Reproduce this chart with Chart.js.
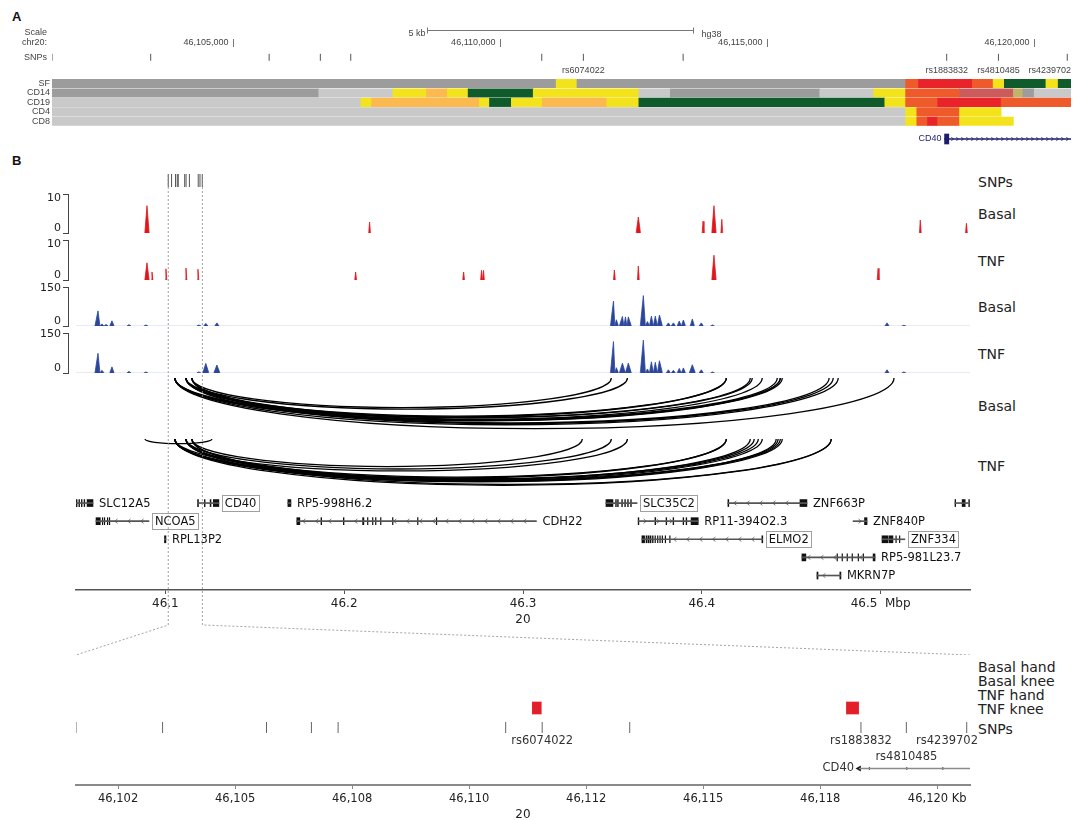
<!DOCTYPE html>
<html>
<head>
<meta charset="utf-8">
<script src="https://cdn.jsdelivr.net/npm/chart.js@4.4.1/dist/chart.umd.min.js"></script>
<style>
    html, body { margin: 0; padding: 0; background: #fff; }
    body { position: relative; width: 1076px; height: 820px; overflow: hidden; font-family: "DejaVu Sans", sans-serif; }
    canvas { position: absolute; left: 0; }
    .lbl { position: absolute; white-space: nowrap; color: #222; font-size: 14px; line-height: 14px; transform: translateY(-50%); }
    .panel { position: absolute; font: bold 13px "Liberation Sans", Arial, sans-serif; color: #111; }
</style>
</head>
<body>
<div class="panel" style="left:12px;top:9px">A</div>
<div class="panel" style="left:12px;top:153px">B</div>
<div class="lbl" style="left:978px;top:182px">SNPs</div>
<div class="lbl" style="left:978px;top:214px">Basal</div>
<div class="lbl" style="left:978px;top:261px">TNF</div>
<div class="lbl" style="left:978px;top:307px">Basal</div>
<div class="lbl" style="left:978px;top:354px">TNF</div>
<div class="lbl" style="left:978px;top:406px">Basal</div>
<div class="lbl" style="left:978px;top:466px">TNF</div>
<div class="lbl" style="left:978px;top:667px">Basal hand</div>
<div class="lbl" style="left:978px;top:681px">Basal knee</div>
<div class="lbl" style="left:978px;top:695px">TNF hand</div>
<div class="lbl" style="left:978px;top:709px">TNF knee</div>
<div class="lbl" style="left:978px;top:729px">SNPs</div>
<script>
"use strict";

// ---- zoomed window on chr20 (panel A, bottom of panel B), kb ----
var winStartKb = 46101.6;
var winEndKb = 46120.7;
var snpKb = [46101.6, 46103.45, 46105.67, 46106.63, 46107.2, 46110.78, 46111.56, 46113.43, 46118.37, 46119.34, 46120.63];
var snpNames = ["", "", "", "", "", "", "rs6074022", "", "rs1883832", "rs4810485", "rs4239702"];
var chrTicksKb = [46105, 46110, 46115, 46120];
var scaleBarKb = [46108.62, 46113.62];
var kbTicks = [46102.5, 46105, 46107.5, 46110, 46112.5, 46115, 46117.5, 46120];

// chromatin states per cell type: [start kb, end kb, state]
var stateTracks = ["SF", "CD14", "CD19", "CD4", "CD8"];
var statesSF = [[46101.6, 46111.05, "q"], [46111.05, 46111.44, "y"], [46111.44, 46117.6, "q"], [46117.6, 46117.84, "r"], [46117.84, 46118.85, "R"], [46118.85, 46119.24, "r"], [46119.24, 46119.45, "y"], [46119.45, 46120.23, "g"], [46120.23, 46120.46, "y"], [46120.46, 46120.7, "g"]];
var statesCD14 = [[46101.6, 46106.6, "q"], [46106.6, 46107.99, "l"], [46107.99, 46108.62, "y"], [46108.62, 46109.01, "o"], [46109.01, 46109.4, "y"], [46109.4, 46110.62, "g"], [46110.62, 46112.6, "y"], [46112.6, 46113.19, "l"], [46113.19, 46115.99, "q"], [46115.99, 46117.0, "l"], [46117.0, 46117.6, "y"], [46117.6, 46118.61, "r"], [46118.61, 46119.62, "p"], [46119.62, 46119.8, "k"], [46119.8, 46120.01, "q"], [46120.01, 46120.7, "l"]];
var statesCD19 = [[46101.6, 46107.39, "l"], [46107.39, 46107.59, "y"], [46107.59, 46109.61, "o"], [46109.61, 46109.8, "y"], [46109.8, 46110.21, "g"], [46110.21, 46110.79, "y"], [46110.79, 46112.0, "o"], [46112.0, 46112.6, "y"], [46112.6, 46117.21, "g"], [46117.21, 46117.6, "y"], [46117.6, 46118.2, "r"], [46118.2, 46119.39, "R"], [46119.39, 46120.7, "r"]];
var statesCD4 = [[46101.6, 46117.6, "l"], [46117.6, 46117.81, "y"], [46117.81, 46118.61, "r"], [46118.61, 46119.39, "y"]];
var statesCD8 = [[46101.6, 46117.6, "l"], [46117.6, 46117.81, "y"], [46117.81, 46118.01, "r"], [46118.01, 46118.2, "R"], [46118.2, 46118.61, "r"], [46118.61, 46119.62, "y"]];

var cd40Kb = [46118.33, 46129.86];
var cd40ExonKb = [46118.55, 46119.35, 46120.12];
var kneeTnfKb = [[46111.35, 46111.54], [46118.06, 46118.32]];

// ---- panel B, Mb ----
var regionMb = [46.05, 46.55];
var mbTicks = [46.1, 46.2, 46.3, 46.4, 46.5];

var basalRedPos = [46.0897, 46.2142, 46.3645, 46.4007, 46.4068, 46.4112, 46.5222, 46.5480];
var basalRedH = [7, 2.8, 4.1, 3, 7, 3.5, 3.3, 2.5];
var tnfRedPos = [46.0897, 46.0925, 46.1003, 46.1115, 46.1182, 46.2064, 46.2668, 46.2768, 46.2779, 46.3511, 46.3645, 46.4068, 46.4986];
var tnfRedH = [4.3, 2, 2.8, 3, 2.7, 2, 2, 2.4, 2.4, 2.5, 3.5, 6.2, 2.9];

var basalBluePos = [46.0623, 46.0645, 46.0668, 46.0701, 46.0796, 46.0891, 46.1187, 46.1226, 46.1288, 46.3506, 46.3522, 46.3556, 46.3573, 46.3589, 46.3673, 46.3696, 46.3718, 46.3740, 46.3763, 46.3813, 46.3841, 46.3874, 46.3897, 46.3947, 46.3997, 46.4060, 46.5036, 46.5130];
var basalBlueH = [58, 8, 6, 20, 5, 4, 4, 10, 12, 96, 24, 37, 35, 35, 117, 17, 38, 38, 42, 12, 12, 19, 23, 27, 12, 4, 12, 3];
var tnfBluePos = [46.0623, 46.0645, 46.0701, 46.0796, 46.0891, 46.1187, 46.1226, 46.1288, 46.3506, 46.3522, 46.3556, 46.3589, 46.3673, 46.3696, 46.3718, 46.3740, 46.3763, 46.3813, 46.3841, 46.3874, 46.3897, 46.3947, 46.3997, 46.4060, 46.5036, 46.5130];
var tnfBlueH = [74, 10, 23, 6, 4, 4, 36, 30, 118, 20, 37, 37, 123, 15, 42, 40, 46, 12, 10, 17, 19, 31, 12, 4, 12, 4];

// contacts [anchor1, anchor2] Mb
var basalLinks = [[46.1053, 46.5075], [46.1053, 46.4763], [46.1115, 46.4735], [46.1148, 46.4712], [46.1053, 46.4450], [46.1115, 46.4439], [46.1148, 46.4422], [46.1053, 46.4338], [46.1115, 46.4282], [46.1148, 46.4271], [46.1053, 46.4137], [46.1115, 46.4137], [46.1053, 46.4439], [46.1115, 46.3584], [46.1148, 46.3494]];
var tnfLinks = [[46.0886, 46.1260], [46.1053, 46.4724], [46.1115, 46.4724], [46.1053, 46.4450], [46.1115, 46.4439], [46.1148, 46.4427], [46.1053, 46.4416], [46.1053, 46.4338], [46.1115, 46.4316], [46.1148, 46.4293], [46.1053, 46.4271], [46.1053, 46.4137], [46.1115, 46.4137], [46.1053, 46.3584], [46.1115, 46.3494], [46.1148, 46.3332]];

// genes
var geneNames = ["SLC12A5", "CD40", "RP5-998H6.2", "SLC35C2", "ZNF663P", "", "NCOA5", "CDH22", "RP11-394O2.3", "ZNF840P", "RPL13P2", "ELMO2", "ZNF334", "RP5-981L23.7", "MKRN7P"];
var geneStart = [46.0502, 46.1180, 46.1685, 46.3464, 46.4146, 46.5416, 46.0612, 46.1735, 46.3644, 46.4846, 46.0995, 46.3665, 46.5008, 46.4560, 46.4644];
var geneEnd = [46.0595, 46.1299, 46.1702, 46.3638, 46.4588, 46.5497, 46.0908, 46.3075, 46.3980, 46.4924, 46.1003, 46.4341, 46.5136, 46.4969, 46.4778];
var geneRow = [0, 0, 0, 0, 0, 0, 1, 1, 1, 1, 2, 2, 2, 3, 4];
var geneStrand = ["+", "+", "+", "-", "-", "-", "-", "-", "+", "+", "+", "-", "-", "-", "-"];
var geneBoxed = [false, true, false, true, false, false, true, false, false, false, false, true, true, false, false];
var geneExons = [
    [[46.0502, 46.0506], [46.0516, 46.0520], [46.0530, 46.0534], [46.0545, 46.0549], [46.0562, 46.0595]],
    [[46.1180, 46.1185], [46.1218, 46.1222], [46.1250, 46.1255], [46.1268, 46.1299]],
    [[46.1685, 46.1702]],
    [[46.3464, 46.3503], [46.3518, 46.3522], [46.3529, 46.3533], [46.3552, 46.3556], [46.3569, 46.3573], [46.3585, 46.3589], [46.3602, 46.3606]],
    [[46.4146, 46.4151], [46.4549, 46.4588]],
    [[46.5416, 46.5420], [46.5456, 46.5473], [46.5493, 46.5497]],
    [[46.0612, 46.0636], [46.0647, 46.0650], [46.0658, 46.0661], [46.0675, 46.0678], [46.0686, 46.0689]],
    [[46.1735, 46.1752], [46.1870, 46.1874], [46.1995, 46.1999], [46.2103, 46.2110], [46.2130, 46.2133], [46.2158, 46.2161], [46.2175, 46.2178], [46.2203, 46.2206], [46.2270, 46.2273], [46.2410, 46.2413], [46.2515, 46.2518]],
    [[46.3644, 46.3648], [46.3738, 46.3742], [46.3800, 46.3804], [46.3839, 46.3843], [46.3895, 46.3899], [46.3912, 46.3916], [46.3940, 46.3980]],
    [[46.4910, 46.4924]],
    [[46.0995, 46.1003]],
    [[46.3665, 46.3680], [46.3688, 46.3694], [46.3700, 46.3706], [46.3712, 46.3716], [46.3724, 46.3728], [46.3738, 46.3741], [46.3752, 46.3755], [46.3765, 46.3768], [46.3778, 46.3781], [46.3795, 46.3798], [46.3820, 46.3823], [46.4336, 46.4341]],
    [[46.5008, 46.5040], [46.5046, 46.5069], [46.5085, 46.5088], [46.5105, 46.5108]],
    [[46.4560, 46.4582], [46.4756, 46.4759], [46.4784, 46.4787], [46.4812, 46.4815], [46.4840, 46.4843], [46.4874, 46.4877], [46.4902, 46.4905], [46.4958, 46.4969]],
    [[46.4644, 46.4650], [46.4772, 46.4778]]
];

// ---- styles / layout ----
var stateColors = { q: "#9c9c9c", l: "#c9c9c9", y: "#f3e31d", o: "#fbb94f", g: "#0f5b2b", r: "#ee5a2a", R: "#e8242a", p: "#cc5c5c", k: "#c1b36c" };
var navy = "#1d1d6e";
var redFill = "#e0161c";
var blueFill = "#2b469b";
var areaB = { left: 76, right: 970 };
var pxPerMb = (areaB.right - areaB.left) / (regionMb[1] - regionMb[0]);
var rowsA = { bar: 10, chr: 23, snp: 37.3, snpLabel: 51, gene: 119, state0: 63.5, statePitch: 9.45 };
var rowsBot = { knee: 53, snp: 72.5, label: [86, 102], gene: 113.5 };

Chart.defaults.font.family = "'DejaVu Sans', sans-serif";
Chart.defaults.animation = false;
Chart.defaults.responsive = false;
Chart.defaults.events = [];
Chart.defaults.plugins.legend.display = false;
Chart.defaults.plugins.tooltip.enabled = false;

function addCanvas(top, height) {
    var cv = document.createElement("canvas");
    cv.width = 1076;
    cv.height = height;
    cv.style.top = top + "px";
    document.body.appendChild(cv);
    return cv;
}

function kbLabel(v) {
    // round half to even, as the original axis does
    var f = Math.floor(v), r = Math.round(v);
    if (Math.abs(v - f - 0.5) < 1e-9) r = (f % 2 === 0) ? f : f + 1;
    return r.toLocaleString("en-US");
}

function drawSnpNames(ctx, xs, rows, maxRight) {
    var lastRight = [-1e9, -1e9];
    ctx.textAlign = "center";
    snpKb.forEach(function (v, i) {
        var name = snpNames[i];
        if (!name) return;
        var w = ctx.measureText(name).width;
        var cx = Math.min(xs.getPixelForValue(v), maxRight - w / 2);
        var row = (cx - w / 2 > lastRight[0] + 2 || rows.length === 1) ? 0 : 1;
        lastRight[row] = cx + w / 2;
        ctx.fillText(name, cx, rows[row]);
    });
}

function peakLine(pos, h, hw) {
    var pts = [{ x: regionMb[0], y: 0 }];
    for (var i = 0; i < pos.length; i++) {
        var w = hw(h[i]);
        var lo = pos[i] - w, hi = pos[i] + w;
        if (i > 0) lo = Math.max(lo, (pos[i - 1] + pos[i]) / 2);
        if (i < pos.length - 1) hi = Math.min(hi, (pos[i] + pos[i + 1]) / 2);
        pts.push({ x: lo, y: 0 }, { x: pos[i], y: h[i] }, { x: hi, y: 0 });
    }
    pts.push({ x: regionMb[1], y: 0 });
    return pts;
}

// linear scales without the bar-chart category offset
function plainScale(min, max, extra) {
    var s = { type: "linear", min: min, max: max, offset: false, display: false, grid: { offset: false } };
    return Object.assign(s, extra || {});
}

// ================= panel A =================
var stateData = [], stateFill = [];
[statesSF, statesCD14, statesCD19, statesCD4, statesCD8].forEach(function (track, i) {
    track.forEach(function (s) {
        stateData.push({ x: [s[0], s[1]], y: rowsA.state0 + i * rowsA.statePitch });
        stateFill.push(stateColors[s[2]]);
    });
});

var panelAPlugin = {
    id: "panelA",
    afterDatasetsDraw: function (chart) {
        var ctx = chart.ctx, xs = chart.scales.x, ys = chart.scales.y, area = chart.chartArea;
        ctx.save();
        ctx.textBaseline = "middle";
        ctx.fillStyle = "#444";
        ctx.strokeStyle = "#777";
        ctx.lineWidth = 1;
        ctx.font = "9px 'Liberation Sans', Arial, sans-serif";
        ctx.textAlign = "right";
        ctx.fillText("Scale", 47, ys.getPixelForValue(rowsA.bar) + 3);
        ctx.fillText("chr20:", 47, ys.getPixelForValue(rowsA.chr));
        ctx.fillText("SNPs", 47, ys.getPixelForValue(rowsA.snp));
        stateTracks.forEach(function (name, i) {
            ctx.fillText(name, area.left - 2, ys.getPixelForValue(rowsA.state0 + i * rowsA.statePitch));
        });

        var yb = Math.round(ys.getPixelForValue(rowsA.bar)) + 0.5;
        var b0 = Math.round(xs.getPixelForValue(scaleBarKb[0])) + 0.5, b1 = Math.round(xs.getPixelForValue(scaleBarKb[1])) + 0.5;
        ctx.beginPath();
        ctx.moveTo(b0, yb); ctx.lineTo(b1, yb);
        ctx.moveTo(b0, yb - 3); ctx.lineTo(b0, yb + 3);
        ctx.moveTo(b1, yb - 3); ctx.lineTo(b1, yb + 3);
        ctx.stroke();
        ctx.fillText("5 kb", b0 - 2, yb + 3);
        ctx.textAlign = "left";
        ctx.fillText("hg38", b1 + 8, yb + 4);

        var yc = ys.getPixelForValue(rowsA.chr);
        chrTicksKb.forEach(function (v) {
            var px = Math.round(xs.getPixelForValue(v)) + 0.5;
            ctx.beginPath(); ctx.moveTo(px, yc - 4); ctx.lineTo(px, yc + 4); ctx.stroke();
            ctx.textAlign = "right";
            ctx.fillText((v * 1000).toLocaleString("en-US"), px - 5, yc);
        });

        drawSnpNames(ctx, xs, [ys.getPixelForValue(rowsA.snpLabel)], area.right);

        var yg = ys.getPixelForValue(rowsA.gene);
        ctx.fillStyle = navy;
        ctx.textAlign = "right";
        ctx.fillText("CD40", xs.getPixelForValue(cd40Kb[0]) - 3, yg);
        ctx.strokeStyle = navy;
        ctx.lineWidth = 0.8;
        for (var px = xs.getPixelForValue(cd40Kb[0] + 0.08) + 4; px < area.right; px += 5) {
            ctx.beginPath();
            ctx.moveTo(px - 1.5, yg - 2); ctx.lineTo(px + 0.5, yg); ctx.lineTo(px - 1.5, yg + 2);
            ctx.stroke();
        }
        ctx.restore();
    }
};

new Chart(addCanvas(0, 150), {
    type: "bar",
    data: {
        datasets: [
            { type: "bar", indexAxis: "y", data: stateData, backgroundColor: stateFill, barThickness: 8.4, grouped: false, borderWidth: 0 },
            { type: "scatter", data: snpKb.map(function (v) { return { x: v, y: rowsA.snp }; }), pointStyle: "line", rotation: 90, radius: 3.5, borderColor: "#555", borderWidth: 1 },
            { type: "bar", indexAxis: "y", data: [{ x: [cd40Kb[0], cd40Kb[1]], y: rowsA.gene }], backgroundColor: navy, barThickness: 1, grouped: false },
            { type: "bar", indexAxis: "y", data: [{ x: [cd40Kb[0], cd40Kb[0] + 0.08], y: rowsA.gene }], backgroundColor: navy, barThickness: 10, grouped: false }
        ]
    },
    options: {
        layout: { padding: { left: 52, right: 1, top: 20, bottom: 5 } },
        scales: {
            x: plainScale(winStartKb, winEndKb),
            y: plainScale(0, 125, { reverse: true })
        }
    },
    plugins: [panelAPlugin]
});

// ================= panel B =================
// SNP ticks
new Chart(addCanvas(165, 30), {
    type: "scatter",
    data: { datasets: [{ data: snpKb.map(function (v) { return { x: v / 1000, y: 0.5 }; }), pointStyle: "line", rotation: 90, radius: 7, borderColor: "#555", borderWidth: 1 }] },
    options: {
        layout: { padding: { left: areaB.left, right: 1076 - areaB.right, top: 9, bottom: 7 } },
        scales: {
            x: plainScale(regionMb[0], regionMb[1]),
            y: plainScale(0, 1)
        }
    }
});

function signalTrack(top, height, max, topLabelAt, pos, h, color, baseColor, hw) {
    new Chart(addCanvas(top - 10, height + 20), {
        type: "line",
        data: {
            datasets: [{
                yAxisID: "y",
                data: peakLine(pos, h, hw),
                fill: "origin",
                backgroundColor: color,
                borderColor: color,
                borderWidth: 0.8,
                pointRadius: 0,
                tension: 0,
                segment: {
                    borderColor: function (c) { return (c.p0.parsed.y === 0 && c.p1.parsed.y === 0) ? baseColor : undefined; }
                }
            }]
        },
        options: {
            layout: { padding: { left: 0, right: 1076 - areaB.right, top: 10, bottom: 10 } },
            scales: {
                x: plainScale(regionMb[0] - (areaB.left - 68) / pxPerMb, regionMb[1]),
                // bracket: border plus tick stubs at 0 and max
                y: {
                    type: "linear", min: 0, max: max, position: "left", weight: 0,
                    afterFit: function (s) { s.width = 6; },
                    afterBuildTicks: function (s) { s.ticks = [{ value: 0 }, { value: max }]; },
                    border: { display: true, color: "#444", width: 1 },
                    grid: { drawOnChartArea: false, drawTicks: true, tickLength: 5, color: "#444" },
                    ticks: { display: false }
                },
                // tick text sits just inside the bracket ends
                yl: {
                    type: "linear", min: 0, max: max, position: "left", weight: 1,
                    afterFit: function (s) { s.width = 62; },
                    afterBuildTicks: function (s) { s.ticks = [{ value: max * 0.12 }, { value: max * topLabelAt }]; },
                    border: { display: false },
                    grid: { display: false, drawTicks: false },
                    ticks: {
                        padding: 1, color: "#222", font: { size: 11 },
                        callback: function (v, i) { return i === 0 ? "0" : String(max); }
                    }
                }
            }
        }
    });
}

var redHw = function (v) { return v >= 4 ? 0.0012 : 0.0005; };
var blueHw = function (v) { return v >= 30 ? 0.0017 : 0.0012; };
signalTrack(194, 39, 10, 0.9, basalRedPos, basalRedH, redFill, "transparent", redHw);
signalTrack(240, 40, 10, 0.9, tnfRedPos, tnfRedH, redFill, "transparent", redHw);
signalTrack(287, 39, 150, 0.97, basalBluePos, basalBlueH, blueFill, "#c5cae4", blueHw);
signalTrack(333, 40, 150, 0.97, tnfBluePos, tnfBlueH, blueFill, "#c5cae4", blueHw);

// contact arcs
var arcDepthMax = 60 / (pxPerMb * 0.0705);
function arcPlugin(links) {
    return {
        id: "arcs",
        afterDatasetsDraw: function (chart) {
            var ctx = chart.ctx, xs = chart.scales.x, ys = chart.scales.y;
            ctx.save();
            ctx.strokeStyle = "#000";
            ctx.lineWidth = 1.3;
            links.forEach(function (l) {
                var x1 = xs.getPixelForValue(l[0]), x2 = xs.getPixelForValue(l[1]);
                var y0 = ys.getPixelForValue(0);
                var ry = ys.getPixelForValue(l[1] - l[0]) - y0;
                ctx.beginPath();
                ctx.ellipse((x1 + x2) / 2, y0, (x2 - x1) / 2, ry, 0, 0, Math.PI);
                ctx.stroke();
            });
            ctx.restore();
        }
    };
}
function arcTrack(top, links) {
    new Chart(addCanvas(top - 8, 76), {
        type: "scatter",
        data: { datasets: [] },
        options: {
            layout: { padding: { left: areaB.left, right: 1076 - areaB.right, top: 8, bottom: 8 } },
            scales: {
                x: plainScale(regionMb[0], regionMb[1]),
                y: plainScale(0, arcDepthMax, { reverse: true })
            }
        },
        plugins: [arcPlugin(links)]
    });
}
arcTrack(378, basalLinks);
arcTrack(439, tnfLinks);

// genes + Mbp axis
var bodyData = geneNames.map(function (n, i) { return { x: [geneStart[i], geneEnd[i]], y: geneRow[i] }; });
var exonData = [];
geneExons.forEach(function (ex, i) { ex.forEach(function (e) { exonData.push({ x: e, y: geneRow[i] }); }); });

var genePlugin = {
    id: "genes",
    afterDatasetsDraw: function (chart) {
        var ctx = chart.ctx, xs = chart.scales.x, ys = chart.scales.y;
        ctx.save();
        ctx.font = "11.5px 'DejaVu Sans', sans-serif";
        ctx.textBaseline = "middle";
        geneNames.forEach(function (name, i) {
            var y = ys.getPixelForValue(geneRow[i]);
            var x0 = xs.getPixelForValue(geneStart[i]), x1 = xs.getPixelForValue(geneEnd[i]);
            var dir = geneStrand[i] === "+" ? 1 : -1;
            ctx.strokeStyle = "#555";
            ctx.lineWidth = 0.8;
            for (var px = x0 + 7; px < x1 - 4; px += 13) {
                var v = xs.getValueForPixel(px);
                var inside = geneExons[i].some(function (e) { return v > e[0] - 0.0006 && v < e[1] + 0.0006; });
                if (inside) continue;
                ctx.beginPath();
                ctx.moveTo(px - 1.5 * dir, y - 2.2); ctx.lineTo(px + 1.2 * dir, y); ctx.lineTo(px - 1.5 * dir, y + 2.2);
                ctx.stroke();
            }
            if (!name) return;
            var tx = x1 + 6;
            ctx.fillStyle = "#111";
            ctx.textAlign = "left";
            ctx.fillText(name, tx, y + 0.5);
            if (geneBoxed[i]) {
                var w = ctx.measureText(name).width;
                ctx.strokeStyle = "#a0a0a0";
                ctx.lineWidth = 1;
                ctx.strokeRect(Math.round(tx - 3) + 0.5, Math.round(y - 8) + 0.5, Math.round(w + 5), 16);
            }
        });
        ctx.restore();
    }
};

new Chart(addCanvas(486, 144), {
    type: "bar",
    data: {
        datasets: [
            { indexAxis: "y", data: bodyData, backgroundColor: "#555", barThickness: 1, grouped: false },
            { indexAxis: "y", data: exonData, backgroundColor: "#111", barThickness: 7, grouped: false }
        ]
    },
    options: {
        layout: { padding: { left: areaB.left, right: 1076 - areaB.right, top: 8, bottom: 0 } },
        scales: {
            x: plainScale(regionMb[0], regionMb[1], {
                display: true, position: "bottom",
                afterFit: function (s) { s.height = 40; },
                afterBuildTicks: function (s) { s.ticks = mbTicks.map(function (v) { return { value: v }; }); },
                border: { display: true, color: "#555", width: 1.5 },
                grid: { offset: false, drawOnChartArea: false, drawTicks: true, tickLength: 4, color: "#555" },
                ticks: {
                    padding: 3, color: "#222", font: { size: 12 }, maxRotation: 0,
                    callback: function (v, i, t) { return i === t.length - 1 ? v.toFixed(1) + "  Mbp" : v.toFixed(1); }
                },
                title: { display: true, text: "20", color: "#222", font: { size: 12 }, padding: { top: 0, bottom: 3 } }
            }),
            y: plainScale(-0.5, 4.8, { reverse: true })
        }
    },
    plugins: [genePlugin]
});

// ================= zoomed region (bottom) =================
var bottomPlugin = {
    id: "bottomLabels",
    afterDatasetsDraw: function (chart) {
        var ctx = chart.ctx, xs = chart.scales.x, ys = chart.scales.y, area = chart.chartArea;
        ctx.save();
        ctx.font = "11.5px 'DejaVu Sans', sans-serif";
        ctx.textBaseline = "middle";
        ctx.fillStyle = "#333";
        drawSnpNames(ctx, xs, rowsBot.label.map(function (r) { return ys.getPixelForValue(r); }), area.right + 8);
        ctx.textAlign = "right";
        ctx.fillText("CD40", xs.getPixelForValue(cd40Kb[0]) - 5, ys.getPixelForValue(rowsBot.gene));
        ctx.restore();
    }
};

new Chart(addCanvas(645, 175), {
    type: "bar",
    data: {
        datasets: [
            { type: "bar", indexAxis: "y", data: kneeTnfKb.map(function (k) { return { x: k, y: rowsBot.knee }; }), backgroundColor: "#e3202a", barThickness: 12, grouped: false },
            { type: "scatter", data: snpKb.map(function (v) { return { x: v, y: rowsBot.snp }; }), pointStyle: "line", rotation: 90, radius: 5.5, borderColor: "#666", borderWidth: 1 },
            { type: "bar", indexAxis: "y", data: [{ x: [cd40Kb[0], cd40Kb[1]], y: rowsBot.gene }], backgroundColor: "#8a8a8a", barThickness: 1, grouped: false },
            { type: "scatter", data: cd40ExonKb.map(function (v) { return { x: v, y: rowsBot.gene }; }), pointStyle: "line", rotation: 90, radius: 1.5, borderColor: "#333", borderWidth: 1 },
            { type: "scatter", data: [{ x: cd40Kb[0], y: rowsBot.gene }], pointStyle: "triangle", rotation: 270, radius: 3.5, backgroundColor: "#111", borderColor: "#111", borderWidth: 0 }
        ]
    },
    options: {
        layout: { padding: { left: areaB.left, right: 1076 - areaB.right, top: 10, bottom: 0 } },
        scales: {
            x: plainScale(winStartKb, winEndKb, {
                display: true, position: "bottom",
                afterFit: function (s) { s.height = 35; },
                afterBuildTicks: function (s) { s.ticks = kbTicks.map(function (v) { return { value: v }; }); },
                border: { display: true, color: "#8a8a8a", width: 2 },
                grid: { offset: false, drawOnChartArea: false, drawTicks: true, tickLength: 4, color: "#888" },
                ticks: {
                    padding: 3, color: "#222", font: { size: 11.5 }, maxRotation: 0,
                    callback: function (v, i, t) { return i === t.length - 1 ? kbLabel(v) + " Kb" : kbLabel(v); }
                },
                title: { display: true, text: "20", color: "#222", font: { size: 12, lineHeight: 0.8 }, padding: { top: 0, bottom: 0 } }
            }),
            y: plainScale(0, 130, { reverse: true })
        }
    },
    plugins: [bottomPlugin]
});

// ================= zoom connector lines (on top) =================
var kinkY = 0.9375;
new Chart(addCanvas(170, 490), {
    type: "scatter",
    data: {
        datasets: [
            { data: [{ x: winStartKb / 1000, y: 0 }, { x: winStartKb / 1000, y: kinkY }, { x: regionMb[0], y: 1 }] },
            { data: [{ x: winEndKb / 1000, y: 0 }, { x: winEndKb / 1000, y: kinkY }, { x: regionMb[1], y: 1 }] }
        ].map(function (d) {
            d.showLine = true;
            d.pointRadius = 0;
            d.borderColor = "#8c8c8c";
            d.borderWidth = 0.8;
            d.borderDash = [2, 2];
            return d;
        })
    },
    options: {
        layout: { padding: { left: areaB.left, right: 1076 - areaB.right, top: 5, bottom: 5 } },
        scales: {
            x: plainScale(regionMb[0], regionMb[1]),
            y: plainScale(0, 1, { reverse: true })
        }
    }
});
</script>
</body>
</html>
